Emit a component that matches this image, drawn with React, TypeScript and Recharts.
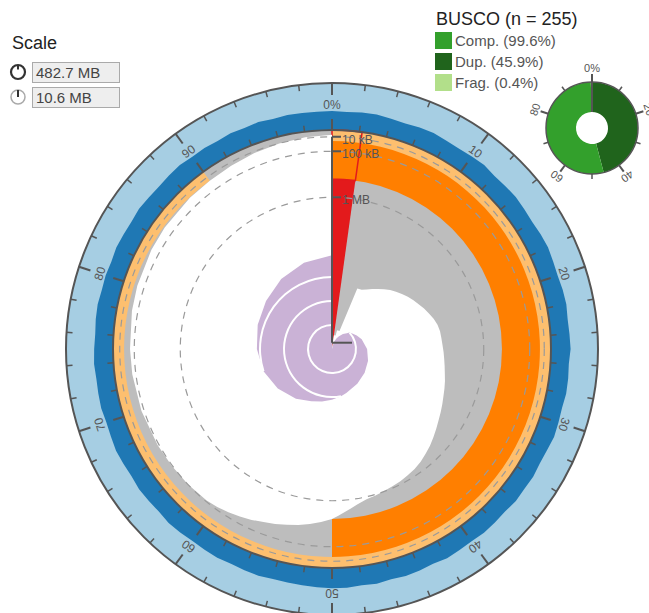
import React from 'react';
import {
  PieChart,
  Pie,
  Cell,
  RadarChart,
  Radar,
  PolarAngleAxis,
  PolarRadiusAxis,
  PolarGrid,
} from 'recharts';

const W = 649;
const H = 613;
const CX = 332;
const CY = 349;
const R_RING = 266; // outer edge of base composition ring
const R_PLOT = 219; // scaffold length circle
const R_SPIRAL = 96; // radius of 10^4 scaffolds
const DONUT_X = 592;
const DONUT_Y = 128;
const FONT = "'Liberation Sans', Arial, Helvetica, sans-serif";

// assembly summary
const spanMb = 482.7;
const longestMb = 10.6;
const n50Mb = 0.53;
const n90Mb = 0.027;
const n50Pct = 50;
const n90Pct = 90;

// scaffold length (Mb) at cumulative % of assembly span
const lengthPct = [
  0, 2.2, 2.2, 4.2, 4.2, 6.3, 6.3, 7.4, 8.4, 9.4, 10.4, 11.4, 12.4, 13.4, 14.4, 15.4, 16.4,
  17.4, 18.4, 19.4, 20.4, 21.4, 22.4, 23.4, 24.4, 25.4, 26.4, 27.4, 28.4, 29.4, 30.4, 31.4,
  32.4, 33.4, 34.4, 35.4, 36.4, 37.4, 38.4, 39.4, 40.4, 41.4, 42.4, 43.4, 44.4, 45.4, 46.4,
  47.4, 48.4, 49.4, 50, 51, 52, 53, 54, 55, 56, 57, 58, 59, 60, 61, 63, 65, 67, 70, 73, 75,
  78, 80, 83, 85, 88, 90, 92, 94, 96, 98, 100,
];
const lengthMb = [
  10.6, 10.6, 9.3, 9.3, 8.8, 8.8, 5.2, 5.15, 4.98, 4.76, 4.55, 4.32, 4.1, 3.92, 3.74, 3.56,
  3.4, 3.26, 3.1, 2.96, 2.82, 2.71, 2.65, 2.63, 2.6, 2.55, 2.5, 2.44, 2.37, 2.28, 2.2, 2.12,
  2.02, 1.92, 1.82, 1.7, 1.58, 1.46, 1.36, 1.26, 1.19, 1.14, 1.09, 1.05, 1.01, 0.97, 0.93,
  0.84, 0.72, 0.6, 0.53, 0.46, 0.4, 0.35, 0.31, 0.27, 0.24, 0.2, 0.17, 0.145, 0.125, 0.11,
  0.1, 0.094, 0.088, 0.077, 0.069, 0.064, 0.052, 0.045, 0.037, 0.033, 0.029, 0.027, 0.021,
  0.015, 0.0105, 0.007, 0.005,
];

// cumulative scaffold count at cumulative % of assembly span
const countPct = [
  0, 2.2, 4.2, 6.3, 8, 10, 12, 13, 15, 17, 20, 25, 30, 35, 40, 45, 47, 50, 53, 56, 60, 65,
  70, 75, 80, 85, 90, 95, 100,
];
const countValue = [
  1, 1, 2, 3, 4, 6, 8, 10, 12, 15, 20, 29, 38, 48, 62, 85, 100, 130, 170, 220, 360, 620,
  1000, 1350, 1800, 2500, 4000, 6000, 8000,
];

// GC % along the assembly, one value per 1 %
const gcPercent = [
  40.6, 39.2, 41.3, 42.1, 40.0, 38.8, 40.9, 41.8, 39.6, 38.9, 40.4, 42.0, 39.1, 40.2, 41.5,
  39.8, 38.7, 40.6, 41.9, 40.1, 39.0, 40.8, 41.6, 39.4, 40.3, 41.7, 38.9, 40.5, 41.2, 39.3,
  40.7, 42.2, 39.6, 38.8, 41.0, 40.2, 41.8, 39.1, 40.4, 41.4, 39.5, 40.6, 42.4, 39.2, 41.1,
  42.0, 39.6, 42.6, 40.8, 42.9, 43.1, 41.7, 40.9, 39.9, 39.3, 41.2, 40.3, 38.9, 40.9, 40.0,
  39.0, 40.7, 41.8, 39.5, 40.3, 41.4, 39.2, 40.5, 41.9, 40.0, 38.9, 41.0, 40.2, 39.4, 41.3,
  40.1, 38.8, 40.7, 41.6, 39.7, 40.5, 39.0, 41.2, 40.2, 39.4, 41.5, 40.0, 38.9, 40.8, 41.9,
  39.6, 40.5, 39.2, 41.1, 40.0, 41.6, 39.5, 40.8, 40.2, 39.6, 40.6,
];

// radial axis ticks
const radialTickMb = [0.01, 0.1, 1, 10];
const radialTickLabels = ['10 kB', '100 kB', '1 MB', ''];

const scaleLabels = ['482.7 MB', '10.6 MB'];

const buscoTotal = 255;
const buscoNames = ['Comp.', 'Dup.', 'Frag.'];
const buscoPct = [99.6, 45.9, 0.4];
const buscoColors = ['#33a02c', '#20641c', '#b2df8a'];

const COLORS = {
  at: '#a6cee3',
  gc: '#1f78b4',
  length: '#bdbdbd',
  longest: '#e31a1c',
  n50: '#ff7f00',
  n90: '#fdbf6f',
  count: '#cab2d6',
  axis: '#555',
};

// distance in from the circle grows with sqrt(length)
const lengthDepth = (mb: number) => 1 - Math.sqrt(mb / longestMb);
const radiusOf = (mb: number) => R_PLOT * lengthDepth(mb);

const lengthData = lengthPct.map((p, i) => ({ p, depth: lengthDepth(lengthMb[i]) }));
const spiralData = countPct.map((p, i) => ({ p, lc: Math.log10(countValue[i]) }));
const gcData = gcPercent.map((g, i) => ({ p: i, gc: g / 100 }));

const longestData = [{ value: longestMb }, { value: spanMb - longestMb }];
const n50Data = [{ value: n50Pct }, { value: 100 - n50Pct }];
const n90Data = [{ value: n90Pct }, { value: 100 - n90Pct }];
const scaleLines = [1, 2, 3].map((k) => {
  const start = countPct[countValue.findIndex((c) => c >= 10 ** k)];
  return { k, data: [{ value: start }, { value: 100 - start }] };
});

const donutData = [
  { name: 'dup', value: buscoPct[1], fill: buscoColors[1] },
  { name: 'single', value: buscoPct[0] - buscoPct[1], fill: buscoColors[0] },
  { name: 'frag', value: buscoPct[2], fill: buscoColors[2] },
  { name: 'missing', value: Math.max(0, 100 - buscoPct[0] - buscoPct[2]), fill: 'none' },
];

const mainTicks = Array.from({ length: 50 }, (_, i) => i * 2);
const donutTicks = Array.from({ length: 10 }, (_, i) => i * 10);
const donutAxisData = donutTicks.map((p) => ({ p, r: 0 }));

const RAD = Math.PI / 180;
const polar = (cx: number, cy: number, r: number, a: number) => ({
  x: cx + r * Math.cos(-a * RAD),
  y: cy + r * Math.sin(-a * RAD),
});

const ringTick =
  (cx: number, cy: number, r: number, dir: number, minorLen: number, majorLen: number,
    majorEvery: number, labelR: number, fontSize: number) =>
  (props: any) => {
    const a = props.payload.coordinate;
    const v = Math.round(props.payload.value);
    const major = v % majorEvery === 0;
    const p1 = polar(cx, cy, r, a);
    const p2 = polar(cx, cy, r + dir * (major ? majorLen : minorLen), a);
    const lp = polar(cx, cy, labelR, a);
    return (
      <g>
        <line x1={p1.x} y1={p1.y} x2={p2.x} y2={p2.y} stroke={COLORS.axis} strokeWidth={major ? 2 : 1.5} />
        {labelR > 0 && major && (
          <text
            x={lp.x}
            y={lp.y}
            transform={`rotate(${90 - a} ${lp.x} ${lp.y})`}
            textAnchor="middle"
            dominantBaseline="central"
            fontSize={fontSize}
            fontFamily={FONT}
            fill={COLORS.axis}
          >
            {v === 0 ? '0%' : v}
          </text>
        )}
      </g>
    );
  };

const radialTick = (props: any) => {
  const { x, y, payload } = props;
  const i = radialTickMb.findIndex((mb) => Math.abs(lengthDepth(mb) - payload.value) < 1e-6);
  const label = radialTickLabels[i] || '';
  const len = label ? 9 : 20;
  return (
    <g>
      <line x1={x} y1={y} x2={x + len} y2={y} stroke={COLORS.axis} strokeWidth={2} />
      {label && (
        <text x={x + 10} y={y + 3} dominantBaseline="central" fontSize={12} fontFamily={FONT} fill={COLORS.axis}>
          {label}
        </text>
      )}
    </g>
  );
};

const layer: React.CSSProperties = { position: 'absolute', left: 0, top: 0 };
const margin = { top: 0, right: 0, bottom: 0, left: 0 };
const full = { startAngle: 90, endAngle: -270 };

export default function App() {
  return (
    <div style={{ position: 'absolute', left: 0, top: 0, width: W, height: H, background: '#fff', overflow: 'hidden', fontFamily: FONT }}>
      {/* AT ring */}
      <div style={layer}>
        <PieChart width={W} height={H} margin={margin}>
          <Pie data={[{ value: 1 }]} dataKey="value" cx={CX} cy={CY} innerRadius={0} outerRadius={R_RING} {...full} fill={COLORS.at} stroke="none" isAnimationActive={false} />
        </PieChart>
      </div>
      {/* GC ring */}
      <div style={layer}>
        <RadarChart width={W} height={H} data={gcData} cx={CX} cy={CY} innerRadius={R_PLOT} outerRadius={R_RING} {...full} margin={margin}>
          <PolarAngleAxis dataKey="p" type="number" domain={[0, 100]} tick={false} tickLine={false} axisLine={false} />
          <PolarRadiusAxis type="number" domain={[0, 1]} tick={false} axisLine={false} />
          <Radar dataKey="gc" fill={COLORS.gc} fillOpacity={1} stroke="none" dot={false} isAnimationActive={false} />
        </RadarChart>
      </div>
      {/* length disc, longest scaffold, N50, N90 */}
      <div style={layer}>
        <PieChart width={W} height={H} margin={margin}>
          <Pie data={[{ value: 1 }]} dataKey="value" cx={CX} cy={CY} innerRadius={0} outerRadius={R_PLOT} {...full} fill={COLORS.length} stroke="none" isAnimationActive={false} />
          <Pie data={longestData} dataKey="value" cx={CX} cy={CY} innerRadius={0} outerRadius={R_PLOT} {...full} stroke="none" isAnimationActive={false}>
            <Cell fill={COLORS.longest} />
            <Cell fill="none" />
          </Pie>
          <Pie data={n50Data} dataKey="value" cx={CX} cy={CY} innerRadius={radiusOf(n50Mb)} outerRadius={R_PLOT} {...full} stroke="none" isAnimationActive={false}>
            <Cell fill={COLORS.n50} />
            <Cell fill="none" />
          </Pie>
          <Pie data={n90Data} dataKey="value" cx={CX} cy={CY} innerRadius={radiusOf(n90Mb)} outerRadius={R_PLOT} {...full} stroke="none" isAnimationActive={false}>
            <Cell fill={COLORS.n90} />
            <Cell fill="none" />
          </Pie>
          <Pie data={longestData} dataKey="value" cx={CX} cy={CY} innerRadius={radiusOf(n50Mb)} outerRadius={R_PLOT} {...full} isAnimationActive={false}>
            <Cell fill="none" stroke={COLORS.longest} strokeWidth={1.5} />
            <Cell fill="none" stroke="none" />
          </Pie>
        </PieChart>
      </div>
      {/* white beyond scaffold lengths */}
      <div style={layer}>
        <RadarChart width={W} height={H} data={lengthData} cx={CX} cy={CY} innerRadius={0} outerRadius={R_PLOT} {...full} margin={margin}>
          <PolarAngleAxis dataKey="p" type="number" domain={[0, 100]} tick={false} tickLine={false} axisLine={false} />
          <PolarRadiusAxis type="number" domain={[0, 1]} tick={false} axisLine={false} />
          <Radar dataKey="depth" fill="#fff" fillOpacity={1} stroke="none" dot={false} isAnimationActive={false} />
        </RadarChart>
      </div>
      {/* dashed length grid */}
      <div style={layer}>
        <RadarChart width={W} height={H} data={lengthData} cx={CX} cy={CY} innerRadius={0} outerRadius={R_PLOT} {...full} margin={margin}>
          <PolarGrid gridType="circle" radialLines={false} stroke="#9a9a9a" strokeWidth={1.2} strokeDasharray="7 6" />
          <PolarAngleAxis dataKey="p" type="number" domain={[0, 100]} tick={false} tickLine={false} axisLine={false} />
          <PolarRadiusAxis type="number" domain={[0, 1]} ticks={radialTickMb.map(lengthDepth)} tick={false} axisLine={false} />
          <Radar dataKey="depth" fill="none" fillOpacity={0} stroke="none" dot={false} isAnimationActive={false} />
        </RadarChart>
      </div>
      {/* scaffold count spiral */}
      <div style={layer}>
        <RadarChart width={W} height={H} data={spiralData} cx={CX} cy={CY} innerRadius={0} outerRadius={R_SPIRAL} {...full} margin={margin}>
          <PolarAngleAxis dataKey="p" type="number" domain={[0, 100]} tick={false} tickLine={false} axisLine={false} />
          <PolarRadiusAxis type="number" domain={[0, 4]} tick={false} axisLine={false} />
          <Radar dataKey="lc" fill={COLORS.count} fillOpacity={1} stroke="none" dot={false} isAnimationActive={false} />
        </RadarChart>
      </div>
      <div style={layer}>
        <PieChart width={W} height={H} margin={margin}>
          {scaleLines.map(({ k, data }) => (
            <Pie key={k} data={data} dataKey="value" cx={CX} cy={CY} innerRadius={(R_SPIRAL * k) / 4 - 1} outerRadius={(R_SPIRAL * k) / 4 + 1} {...full} stroke="none" isAnimationActive={false}>
              <Cell fill="none" />
              <Cell fill="#fff" />
            </Pie>
          ))}
        </PieChart>
      </div>
      {/* length axis + inner circle ticks */}
      <div style={layer}>
        <RadarChart width={W} height={H} data={lengthData} cx={CX} cy={CY} innerRadius={0} outerRadius={R_PLOT} {...full} margin={margin}>
          <PolarAngleAxis
            dataKey="p"
            type="number"
            domain={[0, 100]}
            ticks={mainTicks}
            axisLineType="circle"
            stroke={COLORS.axis}
            axisLine={{ stroke: COLORS.axis, strokeWidth: 2 }}
            tickLine={false}
            tick={ringTick(CX, CY, R_PLOT, 1, 6, 11, 10, 0, 12)}
          />
          <PolarRadiusAxis
            angle={90}
            type="number"
            domain={[0, 1]}
            ticks={radialTickMb.map(lengthDepth)}
            stroke={COLORS.axis}
            axisLine={{ stroke: COLORS.axis, strokeWidth: 2 }}
            tick={radialTick}
          />
          <Radar dataKey="depth" fill="none" fillOpacity={0} stroke="none" dot={false} isAnimationActive={false} />
        </RadarChart>
      </div>
      {/* outer circle ticks and % labels */}
      <div style={layer}>
        <RadarChart width={W} height={H} data={lengthData} cx={CX} cy={CY} innerRadius={0} outerRadius={R_RING} {...full} margin={margin}>
          <PolarAngleAxis
            dataKey="p"
            type="number"
            domain={[0, 100]}
            ticks={mainTicks}
            axisLineType="circle"
            stroke={COLORS.axis}
            axisLine={{ stroke: COLORS.axis, strokeWidth: 2 }}
            tickLine={false}
            tick={ringTick(CX, CY, R_RING, -1, 6, 12, 10, 244, 12)}
          />
          <PolarRadiusAxis type="number" domain={[0, 1]} tick={false} axisLine={false} />
        </RadarChart>
      </div>
      {/* BUSCO donut */}
      <div style={layer}>
        <PieChart width={W} height={H} margin={margin}>
          <Pie data={donutData} dataKey="value" cx={DONUT_X} cy={DONUT_Y} innerRadius={16} outerRadius={46} {...full} stroke="none" isAnimationActive={false}>
            {donutData.map((d) => (
              <Cell key={d.name} fill={d.fill} />
            ))}
          </Pie>
        </PieChart>
      </div>
      <div style={layer}>
        <RadarChart width={W} height={H} data={donutAxisData} cx={DONUT_X} cy={DONUT_Y} innerRadius={16} outerRadius={46} {...full} margin={margin}>
          <PolarAngleAxis
            dataKey="p"
            type="number"
            domain={[0, 100]}
            ticks={donutTicks}
            axisLineType="circle"
            stroke={COLORS.axis}
            axisLine={{ stroke: COLORS.axis, strokeWidth: 1.5 }}
            tickLine={false}
            tick={ringTick(DONUT_X, DONUT_Y, 46, 1, 5, 8, 20, 60, 11)}
          />
          <PolarRadiusAxis angle={90} type="number" domain={[0, 1]} tick={false} stroke={COLORS.axis} axisLine={{ stroke: COLORS.axis, strokeWidth: 2 }} />
          <Radar dataKey="r" fill="none" fillOpacity={0} stroke="none" dot={false} isAnimationActive={false} />
        </RadarChart>
      </div>
      {/* legends */}
      <svg width={W} height={H} style={layer} fontFamily={FONT}>
        <text x={12} y={49} fontSize={18} fill="#222">Scale</text>
        <circle cx={18} cy={72} r={7} fill="none" stroke="#333" strokeWidth={2.2} />
        <line x1={18} y1={65} x2={18} y2={69.5} stroke="#333" strokeWidth={2} />
        <rect x={32.5} y={62.5} width={87} height={20} fill="#eee" stroke="#aaa" />
        <text x={36} y={78} fontSize={15} fill="#444">{scaleLabels[0]}</text>
        <circle cx={18} cy={97} r={7} fill="none" stroke="#aaa" strokeWidth={1.5} />
        <line x1={18} y1={97} x2={18} y2={90} stroke="#333" strokeWidth={2} />
        <rect x={32.5} y={87.5} width={87} height={20} fill="#eee" stroke="#aaa" />
        <text x={36} y={103} fontSize={15} fill="#444">{scaleLabels[1]}</text>

        <text x={436} y={25} fontSize={18} fill="#222">{`BUSCO (n = ${buscoTotal})`}</text>
        {buscoNames.map((n, i) => (
          <g key={n}>
            <rect x={435} y={32 + i * 21} width={17} height={17} fill={buscoColors[i]} />
            <text x={455} y={46 + i * 21} fontSize={15} fill="#555">{`${n} (${buscoPct[i]}%)`}</text>
          </g>
        ))}
      </svg>
    </div>
  );
}
